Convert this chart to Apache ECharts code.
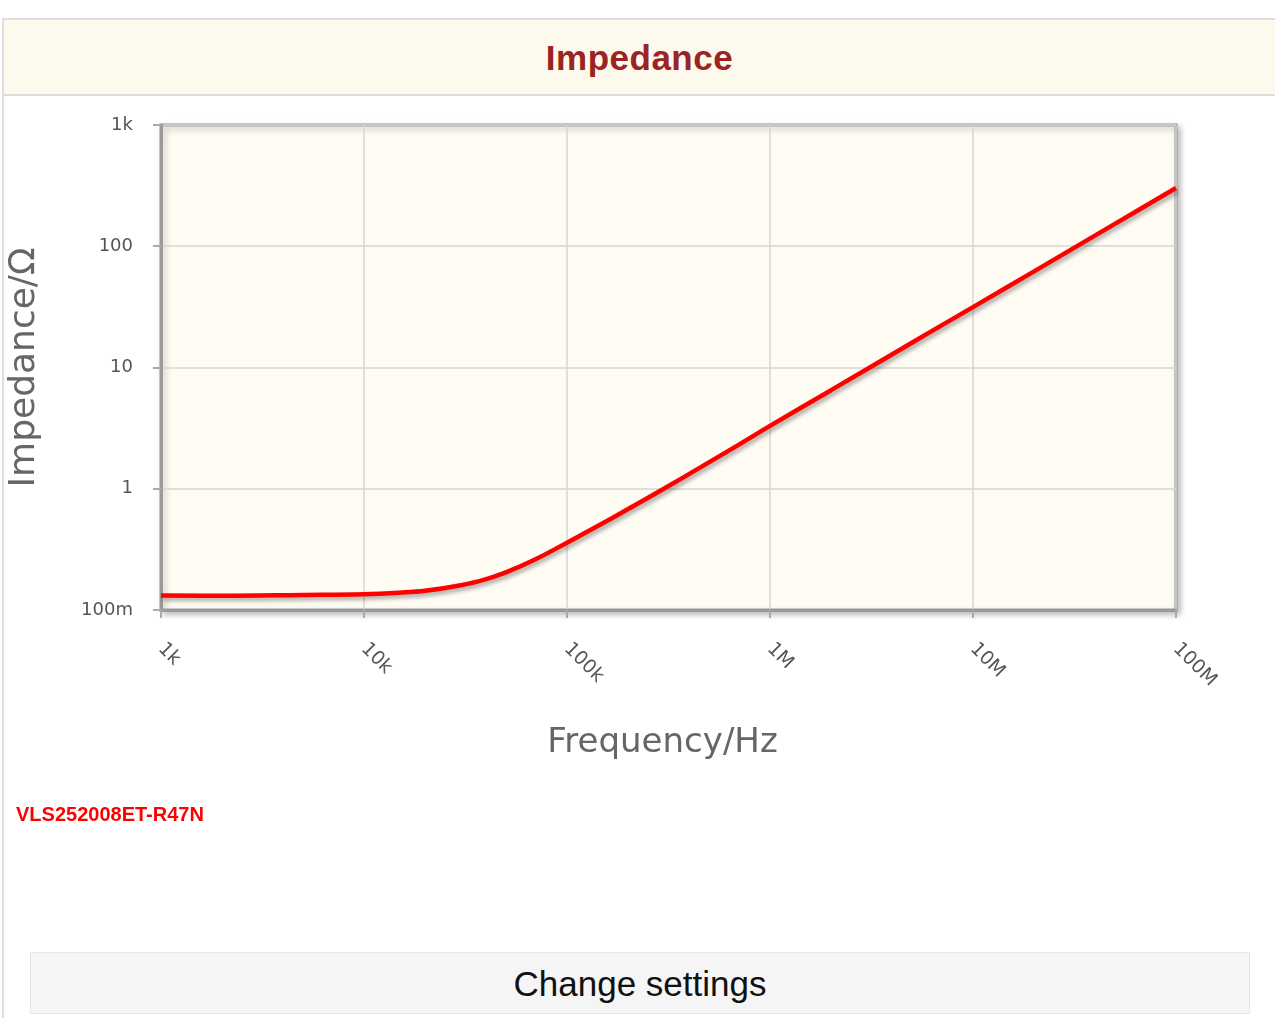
<!DOCTYPE html>
<html>
<head>
<meta charset="utf-8">
<script src="https://cdn.jsdelivr.net/npm/echarts@6/dist/echarts.min.js"></script>
<style>
  html, body { margin: 0; padding: 0; width: 1275px; height: 1018px; background: #ffffff; overflow: hidden; }
  #frame { position: absolute; left: 2px; top: 18px; width: 1273px; height: 1000px; border-left: 2px solid #dedede; border-top: 2px solid #dedede; box-sizing: border-box; }
  #header { position: absolute; left: 4px; top: 20px; width: 1271px; height: 76px; background: #fdf9ec; border-bottom: 2px solid #dedede; box-sizing: border-box;
            text-align: center; line-height: 76px; font-family: "Liberation Sans Narrow", "Liberation Sans", Arial, sans-serif; font-weight: bold; font-size: 35px; color: #9b2323; letter-spacing: 0.5px; }
  #chart { position: absolute; left: 0; top: 0; width: 1275px; height: 1018px; }
  #btn { position: absolute; left: 30px; top: 952px; width: 1220px; height: 62px; background: #f5f5f5; border: 1px solid #e6e6e6; box-sizing: border-box;
         text-align: center; line-height: 62px; font-family: "Liberation Sans Narrow", "Liberation Sans", Arial, sans-serif; font-size: 35px; color: #111; }
</style>
</head>
<body>
<div id="frame"></div>
<div id="header">Impedance</div>
<div id="chart"></div>
<div id="btn">Change settings</div>
<script>
// ---- data ----
const seriesName = 'VLS252008ET-R47N';
const freqHz = [1e3, 2e3, 5e3, 1e4, 1.5e4, 2e4, 3e4, 4e4, 5e4, 7e4, 1e5, 1.5e5, 2e5, 3e5, 5e5, 7e5, 1e6, 2e6, 5e6, 1e7, 2e7, 5e7, 1e8];
const impedanceOhm = [0.132, 0.131, 0.133, 0.135, 0.139, 0.144, 0.160, 0.180, 0.204, 0.262, 0.359, 0.52, 0.68, 1.0, 1.65, 2.3, 3.3, 6.5, 16, 31.5, 62, 153, 302];
const xTickLabels = ['1k', '10k', '100k', '1M', '10M', '100M'];
const yTickLabels = ['100m', '1', '10', '100', '1k'];
const xMinExp = 3, yMinExp = -1;

const chart = echarts.init(document.getElementById('chart'), null, { renderer: 'canvas' });
const option = {
  backgroundColor: 'transparent',
  animation: false,
  legend: {
    left: 6, top: 800,
    icon: 'none', itemWidth: 0, itemGap: 0,
    data: [seriesName],
    textStyle: { color: '#ff0000', fontWeight: 'bold', fontSize: 20, fontFamily: 'Liberation Sans, Arial, sans-serif' }
  },
  grid: {
    left: 161, right: 99, top: 125, bottom: 408,
    outerBoundsMode: 'none',
    containLabel: false,
    show: true,
    backgroundColor: '#fffcf4',
    borderColor: '#999999',
    borderWidth: 3,
    shadowColor: 'rgba(0,0,0,0.25)',
    shadowBlur: 6,
    shadowOffsetX: 3,
    shadowOffsetY: 3
  },
  xAxis: {
    type: 'log', logBase: 10, min: 1e3, max: 1e8,
    name: 'Frequency/Hz', nameLocation: 'middle', nameGap: 116,
    nameTextStyle: { fontSize: 34, color: '#666', fontFamily: 'DejaVu Sans, sans-serif', padding: [0, 12, 0, 0] },
    axisLine: { show: true, lineStyle: { color: '#999', width: 3 } },
    axisTick: { show: true, length: 8, lineStyle: { color: '#aaa', width: 2 } },
    axisLabel: {
      rotate: -45, margin: 36, fontSize: 19, color: '#555', fontFamily: 'DejaVu Sans, sans-serif',
      formatter: function (v) { return xTickLabels[Math.round(Math.log10(v)) - xMinExp] || ''; }
    },
    splitLine: { show: true, lineStyle: { color: '#d6d6d6', width: 1.5 } }
  },
  yAxis: {
    type: 'log', logBase: 10, min: 0.1, max: 1000,
    name: 'Impedance/Ω', nameLocation: 'middle', nameGap: 118, nameRotate: 90,
    nameTextStyle: { fontSize: 36, color: '#666', fontFamily: 'DejaVu Sans, sans-serif' },
    axisLine: { show: true, lineStyle: { color: '#999', width: 3 } },
    axisTick: { show: true, length: 8, lineStyle: { color: '#aaa', width: 2 } },
    axisLabel: {
      margin: 28, fontSize: 18, color: '#555', fontFamily: 'DejaVu Sans, sans-serif',
      formatter: function (v) { return yTickLabels[Math.round(Math.log10(v)) - yMinExp] || ''; }
    },
    splitLine: { show: true, lineStyle: { color: '#d6d6d6', width: 1.5 } }
  },
  series: [{
    name: seriesName,
    type: 'line',
    smooth: 0.4,
    showSymbol: false,
    data: freqHz.map((f, i) => [f, impedanceOhm[i]]),
    lineStyle: { color: '#ff0000', width: 4.5, shadowColor: 'rgba(0,0,0,0.35)', shadowBlur: 4, shadowOffsetX: 2, shadowOffsetY: 3 },
    itemStyle: { color: '#ff0000' }
  }]
};
chart.setOption(option);
</script>
</body>
</html>
